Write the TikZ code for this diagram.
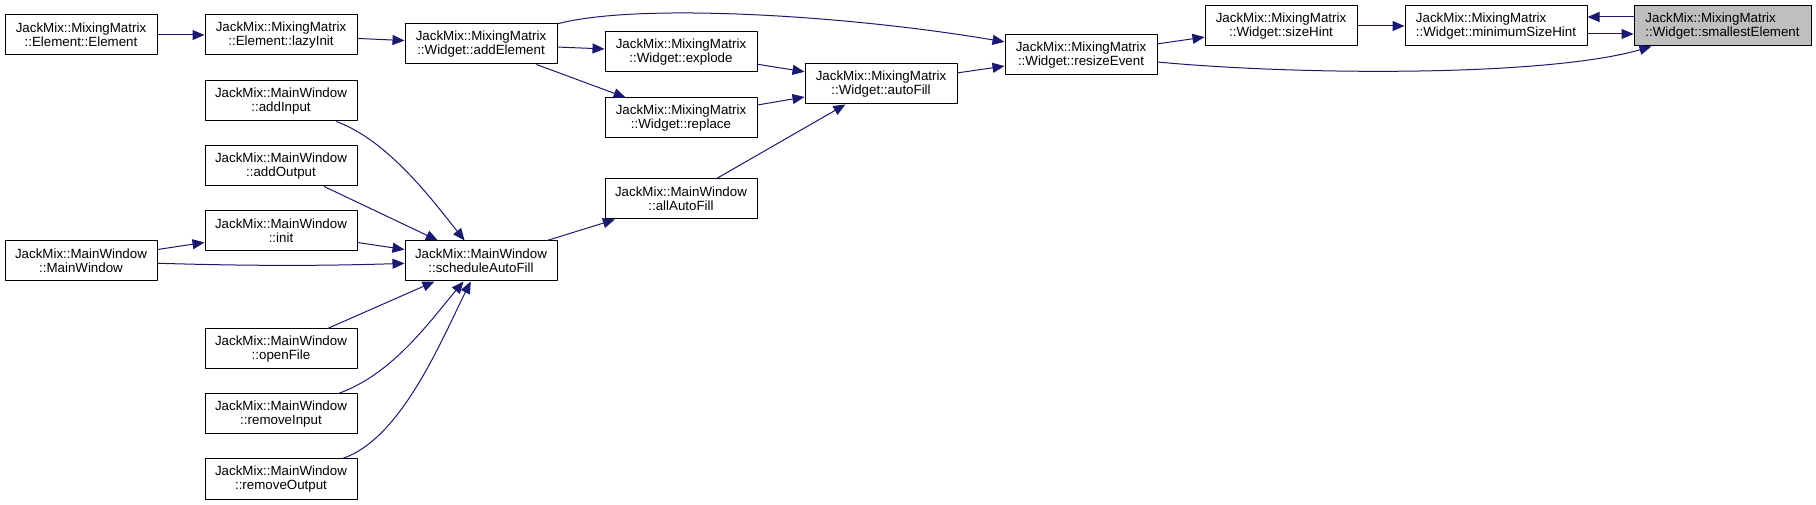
\documentclass[tikz,border=0pt]{standalone}
\usepackage{fontspec}
\setmainfont{Liberation Sans}
\usetikzlibrary{arrows.meta}
\definecolor{edgeblue}{HTML}{191970}
\tikzset{
	fn/.style={draw=black, line width=0.75pt, minimum width=114pt, minimum height=30pt, inner sep=2pt, align=center, font=\fontsize{10}{10.7}\selectfont},
	call/.style={draw=edgeblue, line width=0.75pt, -{Triangle[length=9pt, width=7.5pt]}}
}
\begin{document}
\begin{tikzpicture}[x=0.75pt, y=-0.75pt, line join=round]
				\useasboundingbox (0,0) rectangle (1816,505);
				\node[fn] (elemCtor) at (81,35) {JackMix::MixingMatrix\\::Element::Element};
				\node[fn] (mainCtor) at (81,261) {JackMix::MainWindow\\::MainWindow};
				\node[fn] (lazyInit) at (281,35) {JackMix::MixingMatrix\\::Element::lazyInit};
				\foreach \n/\y in {addInput/101, addOutput/166, init/231, openFile/349, removeInput/414, removeOutput/479}
				\node[fn] (\n) at (281,\y) {JackMix::MainWindow\\::\n};
				\node[fn] (addElement) at (481,44) {JackMix::MixingMatrix\\::Widget::addElement};
				\node[fn] (schedule) at (481,261) {JackMix::MainWindow\\::scheduleAutoFill};
				\node[fn] (explode) at (681,52) {JackMix::MixingMatrix\\::Widget::explode};
				\node[fn] (replace) at (681,118) {JackMix::MixingMatrix\\::Widget::replace};
				\node[fn] (allAutoFill) at (681,199) {JackMix::MainWindow\\::allAutoFill};
				\node[fn] (autoFill) at (881,84) {JackMix::MixingMatrix\\::Widget::autoFill};
				\node[fn] (resizeEvent) at (1081,55) {JackMix::MixingMatrix\\::Widget::resizeEvent};
				\node[fn] (sizeHint) at (1281,26) {JackMix::MixingMatrix\\::Widget::sizeHint};
				\node[fn, minimum width=136.5pt, align=left] (minSizeHint) at (1496,26) {JackMix::MixingMatrix\\::Widget::minimumSizeHint};
				\node[fn, minimum width=132.75pt, align=left, fill=black!25] (smallest) at (1722.5,26) {JackMix::MixingMatrix\\::Widget::smallestElement};
				\draw[call] (elemCtor) -- (lazyInit);
				\draw[call] (lazyInit) -- (addElement);
				\draw[call] (addElement) .. controls (640,2) and (853,16) .. (resizeEvent);
				\draw[call] (addElement) -- (explode);
				\draw[call] (addElement) -- (replace);
				\foreach \s in {explode, replace, allAutoFill}
				\draw[call] (\s) -- (autoFill);
				\draw[call] (autoFill) -- (resizeEvent);
				\draw[call] (resizeEvent) -- (sizeHint);
				\draw[call] (resizeEvent) .. controls (1309,76) and (1549,76) .. (smallest);
				\draw[call] (sizeHint) -- (minSizeHint);
				\draw[call] ([yshift=-6pt]minSizeHint.east) -- ([yshift=-6pt]smallest.west);
				\draw[call] ([yshift=6.75pt]smallest.west) -- ([yshift=6.75pt]minSizeHint.east);
				\draw[call] (schedule) -- (allAutoFill);
				\draw[call] (mainCtor) -- (init);
				\draw[call] (mainCtor) .. controls (250,266) and (320,266) .. (schedule);
				\foreach \s in {addOutput, init, openFile}
				\draw[call] (\s) -- (schedule);
				\draw[call] (addInput) .. controls (389,141) and (433,201) .. (schedule);
				\draw[call] (removeInput) .. controls (393,374) and (430,321) .. (schedule);
				\draw[call] (removeOutput) .. controls (401,439) and (441,341) .. (schedule);
			\end{tikzpicture}
\end{document}
